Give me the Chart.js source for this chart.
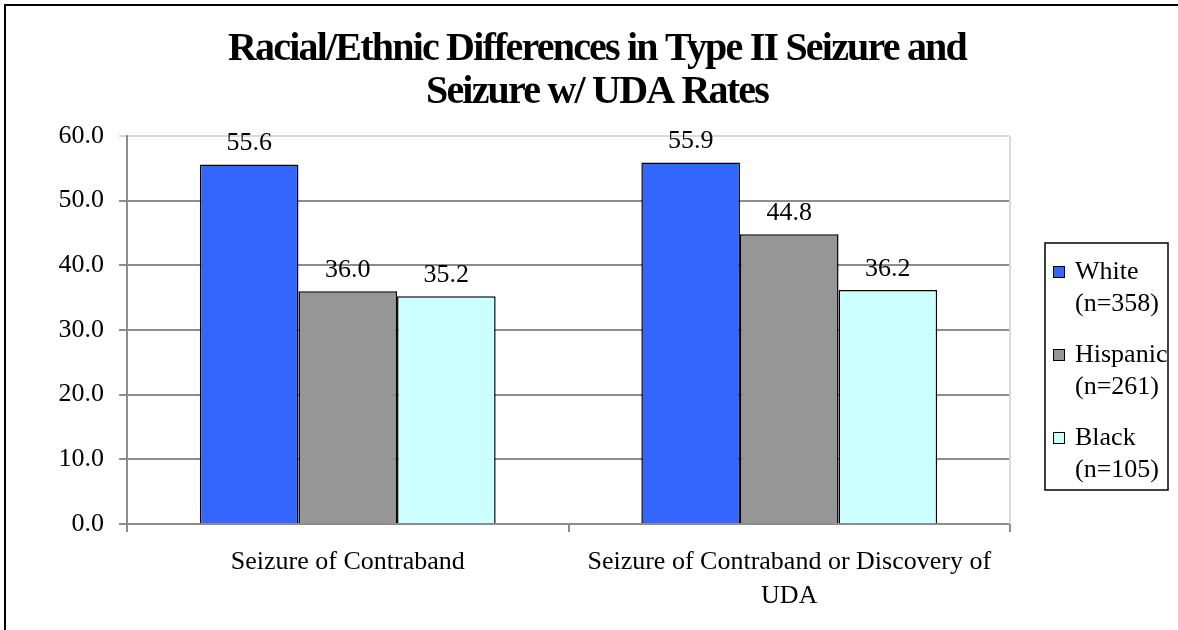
<!DOCTYPE html>
<html>
<head>
<meta charset="utf-8">
<script src="https://cdn.jsdelivr.net/npm/chart.js@4.4.1/dist/chart.umd.min.js"></script>
<style>
  html, body { margin: 0; padding: 0; background: #ffffff; }
  #wrap { position: relative; width: 1178px; height: 630px; }
</style>
</head>
<body>
<div id="wrap"><canvas id="chart" width="1178" height="630"></canvas></div>
<script>
// Category labels (multi-line where the label wraps)
const categories = [
  'Seizure of Contraband',
  ['Seizure of Contraband or Discovery of', 'UDA']
];

// Rates by group (%)
const whiteRates = [55.6, 55.9];
const hispanicRates = [36.0, 44.8];
const blackRates = [35.2, 36.2];

// Legend entries: group name and sample size
const groupNames = ['White', 'Hispanic', 'Black'];
const groupSizes = ['(n=358)', '(n=261)', '(n=105)'];

const titleLines = [
  'Racial/Ethnic Differences in Type II Seizure and',
  'Seizure w/ UDA Rates'
];

const SERIF = '"Liberation Serif", "Times New Roman", serif';
const GRID = '#8c8c8c';
const LIGHT = '#d9d9d9';
const TEXT_SIZE = 26;

// Outer frame, title, plot-area edges, value labels and legend box
const decorations = {
  id: 'decorations',
  beforeDraw(chart) {
    const ctx = chart.ctx;
    ctx.save();
    ctx.fillStyle = '#ffffff';
    ctx.fillRect(0, 0, chart.width, chart.height);
    ctx.strokeStyle = '#000000';
    ctx.lineWidth = 2;
    ctx.strokeRect(5, 5, chart.width + 10, chart.height + 10);
    ctx.restore();
  },
  afterDatasetsDraw(chart) {
    const ctx = chart.ctx;
    const area = chart.chartArea;
    ctx.save();
    // light right edge of plot area
    ctx.strokeStyle = LIGHT;
    ctx.lineWidth = 2;
    ctx.beginPath();
    ctx.moveTo(area.right, area.top);
    ctx.lineTo(area.right, area.bottom);
    ctx.stroke();

    // value labels above bars
    ctx.fillStyle = '#000000';
    ctx.font = TEXT_SIZE + 'px ' + SERIF;
    ctx.textAlign = 'center';
    ctx.textBaseline = 'middle';
    chart.data.datasets.forEach((ds, i) => {
      const meta = chart.getDatasetMeta(i);
      meta.data.forEach((bar, j) => {
        ctx.fillText(ds.data[j].toFixed(1), bar.x, bar.y - 21);
      });
    });

    // title
    ctx.font = 'bold 40px ' + SERIF;
    ctx.letterSpacing = '-1.8px';
    titleLines.forEach((t, k) => {
      ctx.fillText(t, 597, 50 + k * 43);
    });
    ctx.letterSpacing = '0px';

    // legend
    const lx = 1045, ly = 243, lw = 123, lh = 247;
    ctx.strokeStyle = '#000000';
    ctx.lineWidth = 1.5;
    ctx.strokeRect(lx, ly, lw, lh);
    ctx.font = TEXT_SIZE + 'px ' + SERIF;
    ctx.textAlign = 'left';
    chart.data.datasets.forEach((ds, i) => {
      const y0 = 272 + i * 83;
      ctx.fillStyle = ds.backgroundColor;
      ctx.fillRect(1053, y0 - 6, 12, 12);
      ctx.strokeStyle = '#000000';
      ctx.lineWidth = 1;
      ctx.strokeRect(1053.5, y0 - 5.5, 11, 11);
      ctx.fillStyle = '#000000';
      ctx.fillText(groupNames[i], 1075, y0);
      ctx.fillText(groupSizes[i], 1075, y0 + 32);
    });
    ctx.restore();
  }
};

const barBorder = { borderColor: '#000000', borderWidth: 1.5, borderSkipped: 'bottom' };

new Chart(document.getElementById('chart'), {
  type: 'bar',
  data: {
    labels: categories,
    datasets: [
      { label: groupNames[0], data: whiteRates, backgroundColor: '#3366ff', ...barBorder },
      { label: groupNames[1], data: hispanicRates, backgroundColor: '#969696', ...barBorder },
      { label: groupNames[2], data: blackRates, backgroundColor: '#ccffff', ...barBorder }
    ]
  },
  options: {
    responsive: false,
    animation: false,
    devicePixelRatio: 1,
    layout: { padding: { top: 136, right: 168, left: 0, bottom: 0 } },
    plugins: {
      legend: { display: false },
      title: { display: false },
      tooltip: { enabled: false }
    },
    datasets: {
      bar: { categoryPercentage: 0.67, barPercentage: 1.0 }
    },
    scales: {
      x: {
        grid: { display: true, drawOnChartArea: false, drawTicks: true, tickLength: 8, color: GRID, lineWidth: 2 },
        border: { display: true, color: GRID, width: 2 },
        ticks: {
          color: '#000000',
          font: { family: SERIF, size: TEXT_SIZE, lineHeight: 1.31 },
          padding: 13,
          maxRotation: 0
        },
        afterFit(scale) { scale.height = 106; }
      },
      y: {
        min: 0,
        max: 60,
        grid: {
          color: ctx => (ctx.tick && ctx.tick.value === 60 ? LIGHT : GRID),
          lineWidth: 2,
          tickLength: 8,
          drawTicks: true
        },
        border: { display: true, color: GRID, width: 2 },
        ticks: {
          stepSize: 10,
          color: '#000000',
          font: { family: SERIF, size: TEXT_SIZE },
          padding: 15,
          callback: v => Number(v).toFixed(1)
        },
        afterFit(scale) { scale.width = 127; }
      }
    }
  },
  plugins: [decorations]
});
</script>
</body>
</html>
